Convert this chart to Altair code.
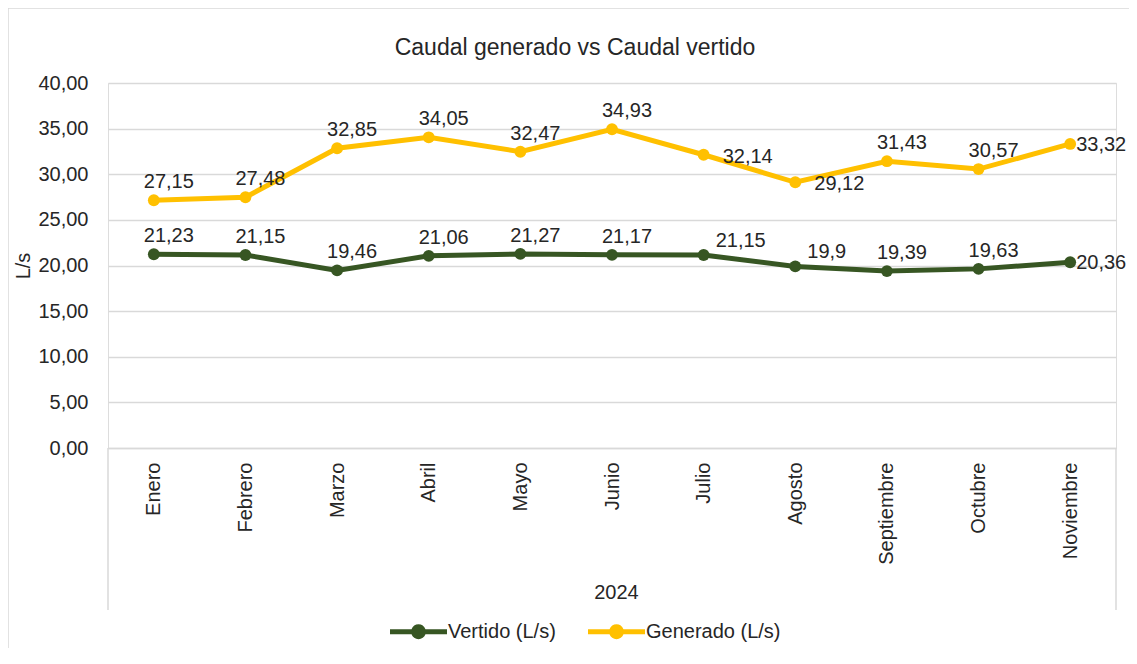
import altair as alt
import pandas as pd

# ---- data ----
months = ["Enero", "Febrero", "Marzo", "Abril", "Mayo", "Junio", "Julio",
          "Agosto", "Septiembre", "Octubre", "Noviembre"]
vertido = [21.23, 21.15, 19.46, 21.06, 21.27, 21.17, 21.15, 19.90, 19.39, 19.63, 20.36]
generado = [27.15, 27.48, 32.85, 34.05, 32.47, 34.93, 32.14, 29.12, 31.43, 30.57, 33.32]
series_names = ["Vertido (L/s)", "Generado (L/s)"]
series_colors = ["#375623", "#FFC000"]
y_ticks = [0, 5, 10, 15, 20, 25, 30, 35, 40]
year_label = "2024"
title_text = "Caudal generado vs Caudal vertido"

# data-label placement (as in the source chart)
vertido_pos = ["above", "above", "above", "above", "above", "above",
               "upright", "upright", "above", "above", "right"]
generado_pos = ["above", "above", "above", "above", "above", "above",
                "farright", "farright", "above", "above", "right"]

rows = []
for name, vals, pos in [(series_names[0], vertido, vertido_pos),
                        (series_names[1], generado, generado_pos)]:
    for m, v, p in zip(months, vals, pos):
        rows.append({"mes": m, "serie": name, "valor": v, "pos": p})
df = pd.DataFrame(rows)

FONT = "Liberation Sans, Arial, sans-serif"
FS = 20
TXT = "#262626"
GRID = "#d9d9d9"
PL = 100
W, H = 1008, 365

legend_path = ("M-1,-0.088L-0.245,-0.088A0.26,0.26 0 0 1 0.245,-0.088L1,-0.088"
               "L1,0.088L0.245,0.088A0.26,0.26 0 0 1 -0.245,0.088L-1,0.088Z")

x_enc = alt.X(
    "mes:N", sort=months,
    scale=alt.Scale(type="point", padding=0.5),
    axis=alt.Axis(
        title=year_label, labelAngle=270, labelAlign="right", labelBaseline="middle",
        labelPadding=14, ticks=False, tickSize=0, domainColor=GRID, domainWidth=1.5,
        labelFont=FONT, labelFontSize=FS, labelColor=TXT,
        titleFont=FONT, titleFontSize=FS, titleColor=TXT, titleFontWeight="normal",
        titleX=W / 2 + 4, titleY=144, titleBaseline="middle", titleAlign="center",
        grid=False,
    ),
)
y_enc = alt.Y(
    "valor:Q",
    scale=alt.Scale(domain=[0, 40], nice=False, zero=True),
    axis=alt.Axis(
        title="L/s", values=y_ticks, labelExpr="replace(format(datum.value, '.2f'), '.', ',')",
        ticks=False, tickSize=0, domain=False, labelPadding=20,
        labelFont=FONT, labelFontSize=FS, labelColor=TXT,
        titleFont=FONT, titleFontSize=FS, titleColor=TXT, titleFontWeight="normal",
        titleX=-85, titleY=H / 2, titleAngle=270, titleAlign="center", titleBaseline="middle",
        grid=True, gridColor=GRID, gridWidth=1.5,
    ),
)
color_scale = alt.Scale(domain=series_names, range=series_colors)
legend = alt.Legend(
    title=None, orient="none", direction="horizontal",
    legendX=282, legendY=520,
    symbolType=legend_path, symbolSize=3249, symbolStrokeWidth=0,
    symbolOpacity=1, labelFont=FONT, labelFontSize=FS, labelColor=TXT,
    labelOffset=1, columnPadding=32,
)
color_enc = alt.Color("serie:N", scale=color_scale, legend=legend)

base = alt.Chart(df)

lines = base.mark_line(strokeWidth=5).encode(x=x_enc, y=y_enc, color=color_enc)
points = base.mark_point(filled=True, size=140, opacity=1).encode(
    x=x_enc, y=y_enc, color=color_enc)

lab = base.transform_calculate(
    label="replace(format(datum.valor, '.2~f'), '.', ',')"
)
text_style = dict(font=FONT, fontSize=FS, color=TXT, baseline="middle")
lab_above = lab.transform_filter("datum.pos == 'above'").mark_text(
    align="center", dx=15, dy=-18, **text_style
).encode(x=x_enc, y=y_enc, text="label:N")
lab_right = lab.transform_filter("datum.pos == 'right'").mark_text(
    align="left", dx=6, dy=1, **text_style
).encode(x=x_enc, y=y_enc, text="label:N")
lab_farright = lab.transform_filter("datum.pos == 'farright'").mark_text(
    align="left", dx=19, dy=2, **text_style
).encode(x=x_enc, y=y_enc, text="label:N")
lab_upright = lab.transform_filter("datum.pos == 'upright'").mark_text(
    align="left", dx=12, dy=-14, **text_style
).encode(x=x_enc, y=y_enc, text="label:N")

# chart title, category separators below the axis and outer chart frame
title = alt.Chart().mark_text(
    text=title_text, font=FONT, fontSize=23, color=TXT, align="center", baseline="alphabetic"
).encode(x=alt.value(467), y=alt.value(-28))
sep_left = alt.Chart().mark_rule(color=GRID, strokeWidth=1.5).encode(
    x=alt.value(0), y=alt.value(H), y2=alt.value(H + 162))
sep_right = alt.Chart().mark_rule(color=GRID, strokeWidth=1.5).encode(
    x=alt.value(W), y=alt.value(H), y2=alt.value(H + 162))
frame = alt.Chart().mark_rect(fill=None, stroke=GRID, strokeWidth=1.5).encode(
    x=alt.value(-PL), x2=alt.value(W + 40), y=alt.value(-75), y2=alt.value(H + 260))

chart = alt.layer(
    frame, sep_left, sep_right, title, lines, points,
    lab_above, lab_right, lab_farright, lab_upright
).properties(
    width=W, height=H,
    autosize=alt.AutoSizeParams(type="none"),
    padding={"left": PL, "top": 75, "right": 1121 - PL - W, "bottom": 200},
).configure_view(stroke=None).configure(background="white")

chart.save("out.html", embed_options={"renderer": "svg", "actions": False})
